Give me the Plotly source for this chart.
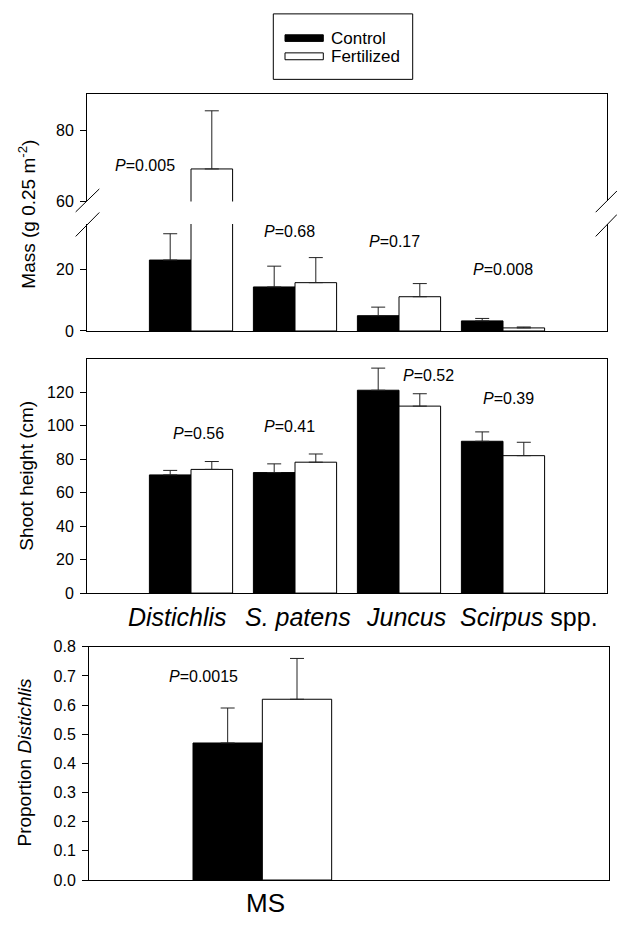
import plotly.graph_objects as go

W, H = 617, 928
FONT = "Liberation Sans, Arial, sans-serif"

# ---------------- data ----------------
species = ["Distichlis", "S. patens", "Juncus", "Scirpus spp."]
species_labels = ["<i>Distichlis</i>", "<i>S. patens</i>", "<i>Juncus</i>", "<i>Scirpus</i> spp."]
series_names = ["Control", "Fertilized"]

mass_control = [23.2, 14.4, 5.0, 3.3]
mass_control_se = [8.6, 6.8, 2.8, 0.8]
mass_fert = [69.1, 15.8, 11.2, 1.0]
mass_fert_se = [16.3, 8.2, 4.3, 0.3]
mass_p = ["0.005", "0.68", "0.17", "0.008"]

height_control = [70.6, 72.0, 121.2, 90.7]
height_control_se = [2.7, 5.2, 13.2, 5.6]
height_fert = [73.9, 78.2, 111.7, 82.1]
height_fert_se = [4.7, 4.9, 7.4, 8.0]
height_p = ["0.56", "0.41", "0.52", "0.39"]

site = ["MS"]
prop_control = [0.47]
prop_control_se = [0.12]
prop_fert = [0.62]
prop_fert_se = [0.14]
prop_p = ["0.0015"]

mass_lower_ticks = [0, 20]
mass_upper_ticks = [60, 80]
height_ticks = [0, 20, 40, 60, 80, 100, 120]
prop_ticks = [0.0, 0.1, 0.2, 0.3, 0.4, 0.5, 0.6, 0.7, 0.8]

# ---------------- layout helpers ----------------
def px(x):
    return x / W

def py(y):
    return 1 - y / H

X_MAIN = [px(87), px(607)]
X_BOT = [px(89), px(609)]
Y_UP = [py(197), py(88)]
Y_LOW = [py(329), py(220)]
Y_MID = [py(596), py(357.3)]
Y_BOT = [py(888.3), py(650.7)]

fig = go.Figure()

def add_pair(xs, c, cse, f, fse, xa, ya):
    fig.add_trace(go.Bar(
        x=xs, y=c, name=series_names[0], xaxis=xa, yaxis=ya,
        marker=dict(color="black", line=dict(color="black", width=1)),
        error_y=dict(type="data", array=cse, arrayminus=[0] * len(cse), symmetric=False,
                     color="#222", thickness=1, width=7),
        showlegend=False, offsetgroup="c"))
    fig.add_trace(go.Bar(
        x=xs, y=f, name=series_names[1], xaxis=xa, yaxis=ya,
        marker=dict(color="white", line=dict(color="black", width=1)),
        error_y=dict(type="data", array=fse, arrayminus=[0] * len(fse), symmetric=False,
                     color="#222", thickness=1, width=7),
        showlegend=False, offsetgroup="f"))

add_pair(species, mass_control, mass_control_se, mass_fert, mass_fert_se, "x", "y")
add_pair(species, mass_control, mass_control_se, mass_fert, mass_fert_se, "x2", "y2")
add_pair(species, height_control, height_control_se, height_fert, height_fert_se, "x3", "y3")
add_pair(site, prop_control, prop_control_se, prop_fert, prop_fert_se, "x4", "y4")

tickfont = dict(family=FONT, size=16, color="black")
common_y = dict(showline=True, linecolor="black", linewidth=1, mirror=True, ticks="outside",
                ticklen=6, tickcolor="black", tickfont=tickfont, showgrid=False, zeroline=False,
                ticklabelstandoff=3)

fig.update_layout(
    width=W, height=H, margin=dict(l=0, r=0, t=0, b=0),
    paper_bgcolor="white", plot_bgcolor="white",
    barmode="group", bargap=0.2, bargroupgap=0,
    font=dict(family=FONT, color="black"),
    showlegend=False,
    # top panel lower segment
    xaxis=dict(domain=X_MAIN, anchor="y", type="category", categoryorder="array",
               categoryarray=species, range=[-1, 4], showline=True, linecolor="black",
               linewidth=1, showticklabels=False, ticks="", showgrid=False),
    yaxis=dict(domain=Y_LOW, anchor="x", range=[0, 35], tickvals=mass_lower_ticks, **common_y),
    # top panel upper segment
    xaxis2=dict(domain=X_MAIN, anchor="y2", side="top", type="category", categoryorder="array",
                categoryarray=species, range=[-1, 4], showline=True, linecolor="black",
                linewidth=1, showticklabels=False, ticks="", showgrid=False),
    yaxis2=dict(domain=Y_UP, anchor="x2", range=[60, 90], tickvals=mass_upper_ticks, **common_y),
    # middle panel
    xaxis3=dict(domain=X_MAIN, anchor="y3", type="category", categoryorder="array",
                categoryarray=species, range=[-1, 4], showline=True, linecolor="black",
                linewidth=1, mirror=True, showticklabels=False, ticks="", showgrid=False),
    yaxis3=dict(domain=Y_MID, anchor="x3", range=[0, 140], tickvals=height_ticks, **common_y),
    # bottom panel
    xaxis4=dict(domain=X_BOT, anchor="y4", type="category", range=[-1, 2], showline=True,
                linecolor="black", linewidth=1, mirror=True, showticklabels=False, ticks="",
                showgrid=False),
    yaxis4=dict(domain=Y_BOT, anchor="x4", range=[0, 0.8], tickvals=prop_ticks,
                tickformat=".1f", **common_y),
)

ann = []
pfont = dict(family=FONT, size=16, color="black")

# P values
mass_p_pos = [(-0.444, 70.2, "x2", "y2"), (0.95, 32.4, "x", "y"), (1.96, 29.2, "x", "y"),
              (3.0, 20.2, "x", "y")]
for txt, (xx, yy, xr, yr) in zip(mass_p, mass_p_pos):
    ann.append(dict(x=xx, y=yy, xref=xr, yref=yr, text="<i>P</i>=" + txt, showarrow=False,
                    font=pfont, xanchor="center", yanchor="middle"))
height_p_pos = [(0.07, 95.4), (0.95, 99.5), (2.28, 130.2), (3.05, 116.5)]
for txt, (xx, yy) in zip(height_p, height_p_pos):
    ann.append(dict(x=xx, y=yy, xref="x3", yref="y3", text="<i>P</i>=" + txt, showarrow=False,
                    font=pfont, xanchor="center", yanchor="middle"))
ann.append(dict(x=-0.34, y=0.699, xref="x4", yref="y4", text="<i>P</i>=" + prop_p[0],
                showarrow=False, font=pfont, xanchor="center", yanchor="middle"))

# category labels
cat_offsets = [-0.13, 1.03, 2.07, 3.25]
for lab, xx in zip(species_labels, cat_offsets):
    ann.append(dict(x=xx, y=py(620), xref="x3", yref="paper", text=lab, showarrow=False,
                    font=dict(family=FONT, size=25, color="black"), xanchor="center",
                    yanchor="middle"))
ann.append(dict(x=0.02, y=py(912), xref="x4", yref="paper", text=site[0], showarrow=False,
                font=dict(family=FONT, size=26, color="black"), xanchor="center",
                yanchor="middle"))

# axis titles
tfont = dict(family=FONT, size=19, color="black")
ann.append(dict(x=px(27.5), y=py(210), xref="paper", yref="paper", textangle=-90,
                text="Mass (g 0.25 m<sup>-2</sup>)", showarrow=False, font=tfont,
                xanchor="center", yanchor="middle"))
ann.append(dict(x=px(26.5), y=py(477), xref="paper", yref="paper", textangle=-90,
                text="Shoot height (cm)", showarrow=False, font=tfont,
                xanchor="center", yanchor="middle"))
ann.append(dict(x=px(24.6), y=py(769), xref="paper", yref="paper", textangle=-90,
                text="Proportion <i>Distichlis</i>", showarrow=False, font=tfont,
                xanchor="center", yanchor="middle"))

# legend (manual)
lfont = dict(family=FONT, size=17, color="black")
ann.append(dict(x=px(329), y=py(30.7), xref="paper", yref="paper", text=series_names[0],
                showarrow=False, font=lfont, xanchor="left", yanchor="middle"))
ann.append(dict(x=px(329), y=py(49.3), xref="paper", yref="paper", text=series_names[1],
                showarrow=False, font=lfont, xanchor="left", yanchor="middle"))

shapes = []
shapes.append(dict(type="rect", xref="paper", yref="paper", x0=px(273.3), x1=px(412.7),
                   y0=py(72.7), y1=py(6), line=dict(color="black", width=1), fillcolor="white",
                   layer="below"))
shapes.append(dict(type="rect", xref="paper", yref="paper", x0=px(285), x1=px(323.3),
                   y0=py(34), y1=py(27.3), line=dict(color="black", width=1), fillcolor="black"))
shapes.append(dict(type="rect", xref="paper", yref="paper", x0=px(285), x1=px(323.3),
                   y0=py(52.7), y1=py(45.7), line=dict(color="black", width=1), fillcolor="white"))

# axis break marks
for (x0, y0, x1, y1) in [(75.7, 207.7, 99.3, 184.3), (75.7, 232.7, 99.3, 208.3),
                         (595.7, 208, 617, 186.3), (595.7, 232.7, 617, 210.3)]:
    shapes.append(dict(type="line", xref="paper", yref="paper", x0=px(x0), y0=py(y0),
                       x1=px(x1), y1=py(y1), line=dict(color="black", width=1)))

fig.update_layout(annotations=ann, shapes=shapes)
fig.write_html("out.html")
